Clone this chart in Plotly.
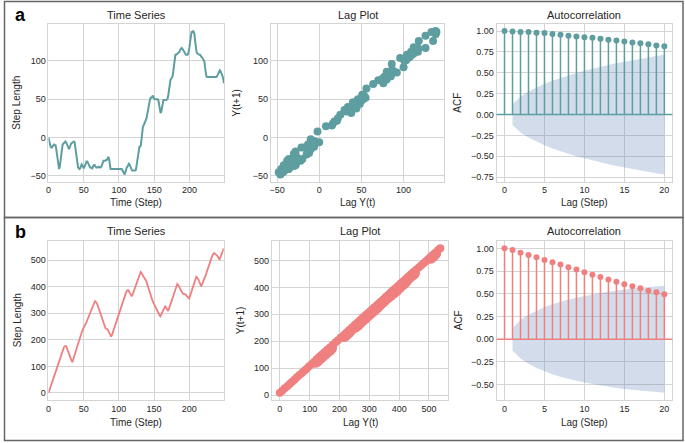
import plotly.graph_objects as go

# ---------------- data ----------------
series_a = [
    0, -6, -10, -12, -13, -13, -11, -9, -9, -10,
    -10, -15, -22, -30, -37, -41, -38, -30, -21, -13,
    -9, -8, -7, -6, -5, -6, -9, -11, -13, -15,
    -13, -9, -8, -7, -6, -5, -5, -6, -12, -20,
    -28, -35, -39, -40, -41, -40, -37, -35, -36, -38,
    -40, -38, -35, -33, -31, -31, -33, -36, -39, -39,
    -39, -40, -40, -38, -35, -35, -37, -39, -39, -39,
    -39, -38, -38, -39, -39, -38, -35, -31, -30, -30,
    -30, -30, -29, -29, -27, -25, -28, -36, -41, -41,
    -41, -41, -41, -41, -41, -41, -41, -41, -41, -41,
    -41, -41, -41, -41, -41, -43, -45, -46, -48, -45,
    -41, -39, -38, -36, -34, -35, -38, -41, -42, -43,
    -43, -43, -43, -43, -42, -36, -28, -18, -13, -12,
    -12, -10, -2, 8, 15, 16, 18, 21, 22, 25,
    30, 36, 40, 46, 50, 52, 52, 53, 55, 52,
    50, 50, 50, 50, 50, 50, 48, 44, 38, 32,
    34, 40, 46, 49, 49, 49, 49, 49, 50, 51,
    56, 64, 70, 75, 77, 79, 80, 86, 96, 104,
    108, 108, 109, 110, 110, 111, 112, 115, 117, 117,
    116, 114, 113, 111, 109, 108, 108, 108, 109, 112,
    118, 126, 133, 138, 138, 139, 138, 135, 126, 117,
    112, 110, 109, 109, 108, 108, 107, 105, 104, 103,
    101, 100, 92, 85, 80, 79, 79, 79, 79, 79,
    79, 79, 79, 79, 79, 79, 79, 79, 79, 80,
    82, 84, 86, 88, 87, 85, 84, 80, 76, 71,
]

series_b = [
    0, 8, 16, 25, 33, 41, 49, 57, 66, 74,
    82, 90, 98, 107, 115, 123, 131, 139, 147, 155,
    161, 167, 172, 176, 178, 177, 170, 162, 155, 148,
    141, 134, 127, 120, 116, 123, 132, 141, 150, 159,
    168, 177, 186, 195, 204, 214, 221, 228, 234, 240,
    245, 249, 252, 259, 267, 274, 281, 288, 295, 303,
    310, 317, 324, 331, 338, 344, 346, 345, 342, 336,
    329, 321, 313, 305, 297, 289, 281, 273, 265, 256,
    248, 244, 242, 241, 239, 234, 228, 222, 216, 212,
    217, 225, 233, 242, 251, 260, 269, 278, 288, 297,
    304, 311, 319, 326, 333, 340, 348, 355, 362, 370,
    377, 384, 389, 388, 384, 379, 374, 369, 366, 367,
    374, 381, 388, 396, 403, 410, 418, 426, 434, 442,
    450, 456, 453, 447, 441, 437, 433, 430, 427, 422,
    413, 404, 395, 385, 375, 366, 359, 353, 346, 340,
    334, 328, 322, 317, 312, 307, 302, 297, 292, 289,
    295, 302, 309, 315, 321, 326, 328, 322, 316, 311,
    309, 316, 324, 332, 340, 348, 356, 364, 372, 380,
    388, 396, 404, 411, 408, 403, 398, 395, 392, 384,
    376, 374, 373, 373, 372, 371, 367, 363, 359, 355,
    356, 364, 372, 380, 389, 397, 405, 414, 422, 430,
    438, 436, 433, 428, 421, 414, 407, 402, 408, 414,
    420, 425, 430, 439, 448, 457, 466, 474, 482, 490,
    497, 505, 512, 519, 525, 527, 526, 525, 524, 520,
    516, 511, 506, 503, 509, 516, 523, 530, 538, 545,
]

acf_lags = list(range(21))
acf_a = [1.0, 0.995, 0.99, 0.988, 0.98, 0.976, 0.964, 0.956, 0.944, 0.936, 0.928,
         0.92, 0.908, 0.896, 0.888, 0.875, 0.863, 0.855, 0.843, 0.827, 0.819]
acf_b = [1.0, 0.982, 0.953, 0.927, 0.902, 0.873, 0.847, 0.822, 0.793, 0.767, 0.738,
         0.709, 0.684, 0.658, 0.633, 0.604, 0.582, 0.56, 0.535, 0.516, 0.495]
# 95% confidence half-widths for lags 1..20
conf_a = [0.124, 0.214, 0.276, 0.325, 0.368, 0.406, 0.440, 0.470, 0.499, 0.525,
          0.550, 0.573, 0.595, 0.615, 0.634, 0.653, 0.670, 0.686, 0.702, 0.717]
conf_b = [0.124, 0.212, 0.270, 0.315, 0.353, 0.384, 0.412, 0.437, 0.458, 0.477,
          0.495, 0.510, 0.524, 0.537, 0.548, 0.558, 0.567, 0.576, 0.583, 0.590]

ts_ticks_x = [0, 50, 100, 150, 200]
ticks_a = [-50, 0, 50, 100]
ticks_b = [0, 100, 200, 300, 400, 500]
acf_ticks_x = [0, 5, 10, 15, 20]
acf_ticks_a = [-0.75, -0.5, -0.25, 0.0, 0.25, 0.5, 0.75, 1.0]
acf_ticks_b = [-0.5, -0.25, 0.0, 0.25, 0.5, 0.75, 1.0]

COL_A = "#5f9ea0"
COL_B = "#f08080"
BAND = "rgba(76,114,176,0.25)"
GRID = "#d4d4d4"
TXT = "#262626"
FONT = "Liberation Sans, Arial, sans-serif"

W, H = 685, 443


def fx(p):
    return p / W


def fy(p):
    return 1 - p / H


def pad(lo, hi, f=0.05):
    d = (hi - lo) * f
    return [lo - d, hi + d]


fig = go.Figure()

rows = [
    dict(vals=series_a, col=COL_A, acf=acf_a, conf=conf_a, yt=ticks_a, at=acf_ticks_a,
         top=24, bot=182, doms=[(45.7, 222), (269, 443.3), (495.7, 672.3)], lw=2.0),
    dict(vals=series_b, col=COL_B, acf=acf_b, conf=conf_b, yt=ticks_b, at=acf_ticks_b,
         top=241.7, bot=401, doms=[(45.7, 221.7), (270, 447.3), (495.7, 672.3)], lw=1.8),
]

axis_common = dict(showgrid=True, gridcolor=GRID, gridwidth=1, showline=True, mirror=True,
                   linecolor=GRID, linewidth=1, zeroline=False, ticks="",
                   tickfont=dict(size=9, color=TXT, family=FONT))

layout_axes = {}
n = 0
for r in rows:
    vals = r["vals"]
    t = list(range(len(vals)))
    ydom = [fy(r["bot"]), fy(r["top"])]
    # --- time series
    n += 1
    fig.add_trace(go.Scatter(x=t, y=vals, mode="lines", line=dict(color=r["col"], width=r["lw"]),
                             xaxis=f"x{n}", yaxis=f"y{n}", showlegend=False))
    layout_axes[f"xaxis{n}"] = dict(axis_common, domain=[fx(r["doms"][0][0]), fx(r["doms"][0][1])],
                                    anchor=f"y{n}", range=[0, len(vals) - 1], tickvals=ts_ticks_x)
    layout_axes[f"yaxis{n}"] = dict(axis_common, domain=ydom, anchor=f"x{n}",
                                    range=pad(min(vals), max(vals)), tickvals=r["yt"])
    # --- lag plot
    n += 1
    lx = vals[:-1]
    ly = vals[1:]
    fig.add_trace(go.Scatter(x=lx, y=ly, mode="markers",
                             marker=dict(color=r["col"], size=8, line=dict(width=0)),
                             xaxis=f"x{n}", yaxis=f"y{n}", showlegend=False))
    layout_axes[f"xaxis{n}"] = dict(axis_common, domain=[fx(r["doms"][1][0]), fx(r["doms"][1][1])],
                                    anchor=f"y{n}", range=pad(min(lx), max(lx)), tickvals=r["yt"])
    layout_axes[f"yaxis{n}"] = dict(axis_common, domain=ydom, anchor=f"x{n}",
                                    range=pad(min(ly), max(ly)), tickvals=r["yt"])
    # --- ACF
    n += 1
    lags1 = acf_lags[1:]
    band_x = lags1 + lags1[::-1]
    band_y = r["conf"] + [-c for c in r["conf"][::-1]]
    fig.add_trace(go.Scatter(x=band_x, y=band_y, mode="lines", fill="toself", fillcolor=BAND,
                             line=dict(width=0), xaxis=f"x{n}", yaxis=f"y{n}", showlegend=False,
                             hoverinfo="skip"))
    sx, sy = [], []
    for k, v in zip(acf_lags, r["acf"]):
        sx += [k, k, None]
        sy += [0, v, None]
    fig.add_trace(go.Scatter(x=sx, y=sy, mode="lines", line=dict(color=r["col"], width=1.5),
                             xaxis=f"x{n}", yaxis=f"y{n}", showlegend=False))
    fig.add_trace(go.Scatter(x=acf_lags, y=r["acf"], mode="markers",
                             marker=dict(color=r["col"], size=6),
                             xaxis=f"x{n}", yaxis=f"y{n}", showlegend=False))
    fig.add_shape(type="line", xref=f"x{n} domain", yref=f"y{n}", x0=0, x1=1, y0=0, y1=0,
                  line=dict(color=r["col"], width=1.5))
    lo = min(-c for c in r["conf"])
    layout_axes[f"xaxis{n}"] = dict(axis_common, domain=[fx(r["doms"][2][0]), fx(r["doms"][2][1])],
                                    anchor=f"y{n}", range=[-1, 21], tickvals=acf_ticks_x)
    layout_axes[f"yaxis{n}"] = dict(axis_common, domain=ydom, anchor=f"x{n}",
                                    range=pad(lo, max(r["acf"])), tickvals=r["at"],
                                    tickformat=".2f")

annos = []


def txt(x, y, s, size, bold=False, angle=0):
    annos.append(dict(x=fx(x), y=fy(y), xref="paper", yref="paper", text=f"<b>{s}</b>" if bold else s,
                      showarrow=False, xanchor="center", yanchor="middle", textangle=angle,
                      font=dict(size=size, color="#000000" if bold else TXT, family=FONT)))


# panel letters
txt(18, 15, "a", 18, bold=True)
txt(18, 233, "b", 18, bold=True)
# titles / labels
for (ttl_y, xl_y, doms, ymid, lag_yx) in [
    (15, 203, rows[0]["doms"], 103, 235),
    (232, 423, rows[1]["doms"], 321, 238),
]:
    cx = [(d[0] + d[1]) / 2 for d in doms]
    txt(cx[0], ttl_y, "Time Series", 11)
    txt(cx[1], ttl_y, "Lag Plot", 11)
    txt(cx[2], ttl_y, "Autocorrelation", 11)
    txt(cx[0], xl_y, "Time (Step)", 10)
    txt(cx[1], xl_y, "Lag Y(t)", 10)
    txt(cx[2], xl_y, "Lag (Step)", 10)
    txt(14, ymid, "Step Length", 10, angle=-90)
    txt(lag_yx, ymid, "Y(t+1)", 10, angle=-90)
    txt(457, ymid, "ACF", 10, angle=-90)

# panel frames
for (y0, y1) in [(1.5, 218), (218, 441.5)]:
    fig.add_shape(type="rect", xref="paper", yref="paper", x0=fx(1.5), x1=fx(683), y0=fy(y1), y1=fy(y0),
                  line=dict(color="#666666", width=1.5), fillcolor="rgba(0,0,0,0)")

fig.update_layout(width=W, height=H, margin=dict(l=0, r=0, t=0, b=0), paper_bgcolor="white",
                  plot_bgcolor="white", showlegend=False, annotations=annos,
                  font=dict(family=FONT, color=TXT), **layout_axes)

fig.write_html("out.html", config={"displayModeBar": False},
               post_script="document.body.style.margin='0';")
